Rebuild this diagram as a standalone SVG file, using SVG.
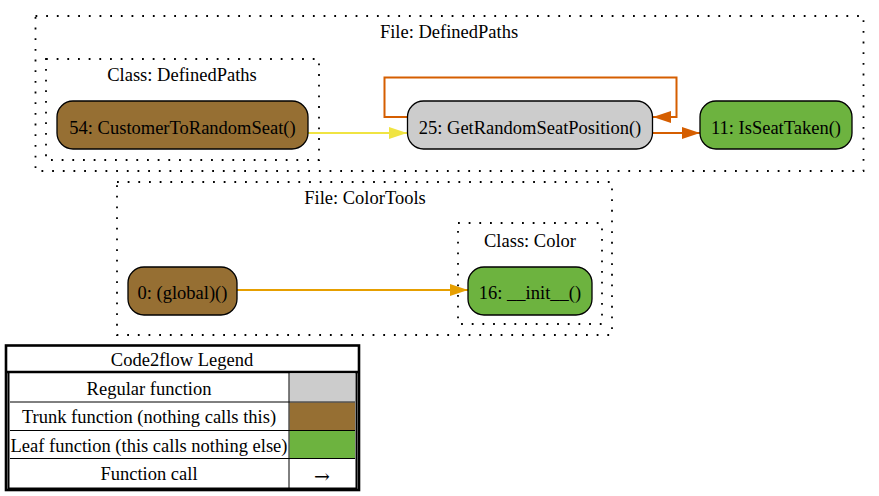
<svg xmlns="http://www.w3.org/2000/svg" width="879" height="496" viewBox="0 0 879 496">
<style>
text{font-family:"Liberation Serif","Times New Roman",serif;font-size:18.5px;fill:#000;text-anchor:middle}
.cl{fill:none;stroke:#000;stroke-width:1.8;stroke-dasharray:1.8,8.87}
.nd{stroke:#000;stroke-width:1.3}
.reg{fill:#cccccc}
.trunk{fill:#966f33}
.leaf{fill:#6db33f}
.e{fill:none;stroke-width:2}
</style>
<defs>
<marker id="aY" markerWidth="18" markerHeight="12" refX="18" refY="6" orient="auto" markerUnits="userSpaceOnUse"><path d="M0,0 L18,6 L0,12 Z" fill="#F0E442"/></marker>
<marker id="aO" markerWidth="18" markerHeight="12" refX="18" refY="6" orient="auto" markerUnits="userSpaceOnUse"><path d="M0,0 L18,6 L0,12 Z" fill="#D55E00"/></marker>
<marker id="aG" markerWidth="18" markerHeight="12" refX="18" refY="6" orient="auto" markerUnits="userSpaceOnUse"><path d="M0,0 L18,6 L0,12 Z" fill="#E69F00"/></marker>
</defs>
<rect width="879" height="496" fill="#fff"/>

<g id="cluster_file_DefinedPaths">
<rect class="cl" x="35.5" y="16" width="828" height="155"/>
<text x="449" y="38">File: DefinedPaths</text>
</g>
<g id="cluster_class_DefinedPaths">
<rect class="cl" x="46" y="59" width="273" height="101"/>
<text x="182" y="81">Class: DefinedPaths</text>
</g>
<g id="cluster_file_ColorTools">
<rect class="cl" x="117" y="182" width="495" height="153"/>
<text x="365" y="204">File: ColorTools</text>
</g>
<g id="cluster_class_Color">
<rect class="cl" x="458" y="223" width="144" height="101"/>
<text x="530" y="247">Class: Color</text>
</g>

<g id="connectors">
<path class="e" stroke="#F0E442" d="M308,133 L407,133" marker-end="url(#aY)"/>
<path class="e" stroke="#D55E00" d="M408,117 L384.5,117 L384.5,77.5 L676.5,77.5 L676.5,117 L653,117" marker-end="url(#aO)"/>
<path class="e" stroke="#D55E00" d="M652,133 L700,133" marker-end="url(#aO)"/>
<path class="e" stroke="#E69F00" d="M237,290 L468,290" marker-end="url(#aG)"/>
</g>

<g id="node_54">
<rect class="nd trunk" x="57" y="101" width="251" height="48" rx="16"/>
<text x="182.5" y="134">54: CustomerToRandomSeat()</text>
</g>
<g id="node_25">
<rect class="nd reg" x="407.5" y="101" width="245" height="48" rx="16"/>
<text x="530" y="134">25: GetRandomSeatPosition()</text>
</g>
<g id="node_11">
<rect class="nd leaf" x="700" y="101" width="152" height="48" rx="16"/>
<text x="776" y="134">11: IsSeatTaken()</text>
</g>
<g id="node_0">
<rect class="nd trunk" x="128" y="267" width="109" height="48" rx="16"/>
<text x="182.5" y="299">0: (global)()</text>
</g>
<g id="node_16">
<rect class="nd leaf" x="468" y="267" width="124" height="48" rx="16"/>
<text x="530" y="299">16: __init__()</text>
</g>

<g id="legend">
<rect x="6" y="345.5" width="353" height="144.5" fill="#fff" stroke="#000" stroke-width="2.6"/>
<line x1="6" y1="372" x2="359" y2="372" stroke="#000" stroke-width="2.6"/>
<rect x="8.5" y="372" width="348" height="116.5" fill="none" stroke="#000" stroke-width="2"/>
<rect x="289.5" y="374" width="65.5" height="27.5" fill="#cccccc"/>
<rect x="289.5" y="402.5" width="65.5" height="27.5" fill="#966f33"/>
<rect x="289.5" y="431" width="65.5" height="27" fill="#6db33f"/>
<g stroke="#000" stroke-width="1">
<line x1="10" y1="402" x2="355" y2="402"/>
<line x1="10" y1="430.5" x2="355" y2="430.5"/>
<line x1="10" y1="458.5" x2="355" y2="458.5"/>
<line x1="289" y1="373" x2="289" y2="488"/>
</g>
<text x="182" y="366">Code2flow Legend</text>
<text x="149" y="395">Regular function</text>
<text x="149" y="423">Trunk function (nothing calls this)</text>
<text x="149" y="451.5">Leaf function (this calls nothing else)</text>
<text x="149" y="480">Function call</text>
<text x="322" y="483" style="font-family:'DejaVu Serif',serif;font-size:19px">→</text>
</g>
</svg>
